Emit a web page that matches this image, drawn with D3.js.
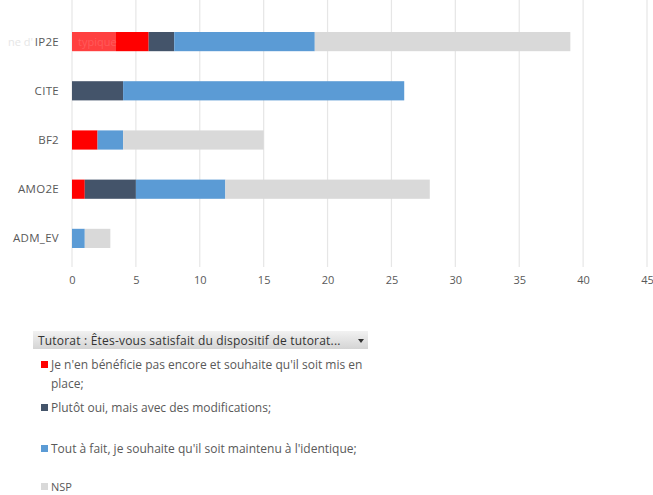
<!DOCTYPE html>
<html><head><meta charset="utf-8">
<script src="https://cdn.jsdelivr.net/npm/d3@7"></script>
<style>body{margin:0;background:#fff;}svg{display:block;font-family:"Open Sans","Liberation Sans",sans-serif;}</style>
</head><body><svg id="c" width="653" height="495"></svg>
<script>
const categories = ["IP2E","CITE","BF2","AMO2E","ADM_EV"];
const seriesNames = ["Je n'en bénéficie pas encore et souhaite qu'il soit mis en place;","Plutôt oui, mais avec des modifications;","Tout à fait, je souhaite qu'il soit maintenu à l'identique;","NSP"];
const seriesColors = ["#FF0000","#44546A","#5B9BD5","#D9D9D9"];
const redVals  = [6,0,2,1,0];
const darkVals = [2,4,0,4,0];
const blueVals = [11,22,2,7,1];
const nspVals  = [20,0,11,16,2];
const xTicks = [0,5,10,15,20,25,30,35,40,45];
const legendTitle = "Tutorat : Êtes-vous satisfait du dispositif de tutorat...";

const svg = d3.select("#c");
const x = d3.scaleLinear().domain([0,45]).range([72,647]);
const y = d3.scaleBand().domain(categories).range([17,263]).paddingInner(0.61).paddingOuter(0.305);

// gridlines
svg.append("g").selectAll("line").data(xTicks).join("line")
  .attr("x1",d=>x(d)).attr("x2",d=>x(d)).attr("y1",0).attr("y2",267)
  .attr("stroke","#e6e6e6").attr("stroke-width",1.2);

// stacked bars
const rows = categories.map((c,i)=>({cat:c, vals:[redVals[i],darkVals[i],blueVals[i],nspVals[i]]}));
const stack = d3.stack().keys([0,1,2,3]).value((d,k)=>d.vals[k]);
const layers = stack(rows);
svg.append("g").selectAll("g").data(layers).join("g")
  .attr("fill",(d,i)=>seriesColors[i])
  .selectAll("rect").data(d=>d).join("rect")
  .attr("x",d=>x(d[0])).attr("width",d=>x(d[1])-x(d[0]))
  .attr("y",d=>y(d.data.cat)).attr("height",y.bandwidth());

// faded hover overlay on IP2E row
svg.append("rect").attr("x",6).attr("y",y("IP2E")-1).attr("width",110).attr("height",y.bandwidth()+2)
  .attr("fill","#fff").attr("opacity",0.25);
svg.append("text").attr("x",8).attr("y",y("IP2E")+y.bandwidth()/2+4)
  .attr("font-size",11).attr("fill","#e6e6e6").text("ne d'");
svg.append("text").attr("x",78).attr("y",y("IP2E")+y.bandwidth()/2+4)
  .attr("font-size",11).attr("fill","#ff5a5a").text("typique");

// category labels
svg.append("g").selectAll("text").data(categories).join("text")
  .attr("x",59).attr("y",d=>y(d)+y.bandwidth()/2+4)
  .attr("text-anchor","end").attr("font-size",11.5).attr("fill","#595959")
  .attr("letter-spacing",0.3).text(d=>d);

// x axis labels
const ax = svg.append("g").attr("transform","translate(0,266)")
  .call(d3.axisBottom(x).tickValues(xTicks).tickSize(0).tickPadding(10));
ax.select(".domain").remove();
ax.selectAll("text").attr("font-size",11).attr("fill","#595959").attr("font-family","'Open Sans','Liberation Sans',sans-serif");

// legend header
const grad = svg.append("defs").append("linearGradient").attr("id","hg").attr("x1",0).attr("x2",0).attr("y1",0).attr("y2",1);
grad.append("stop").attr("offset","0%").attr("stop-color","#f2f2f2");
grad.append("stop").attr("offset","100%").attr("stop-color","#d4d4d4");
svg.append("rect").attr("x",33).attr("y",331).attr("width",335).attr("height",18).attr("fill","url(#hg)");
svg.append("text").attr("x",38).attr("y",344.5).attr("font-size",12).attr("fill","#333")
  .attr("letter-spacing",0.2).text(legendTitle);
svg.append("path").attr("d","M358,339 L364,339 L361,343 Z").attr("fill","#333");

// legend items
const legendLines = [[ "Je n'en bénéficie pas encore et souhaite qu'il soit mis en", "place;" ], [seriesNames[1]], [seriesNames[2]], [seriesNames[3]]];
const legendY = [365,408,449,487];
const lg = svg.append("g");
legendLines.forEach((lines,i)=>{
  lg.append("rect").attr("x",41).attr("y",legendY[i]-4).attr("width",7).attr("height",7).attr("fill",seriesColors[i]);
  lines.forEach((t,j)=>{
    lg.append("text").attr("x",51).attr("y",legendY[i]+4+j*19).attr("font-size",i===3?11:12).attr("fill","#595959").text(t);
  });
});
</script></body></html>
